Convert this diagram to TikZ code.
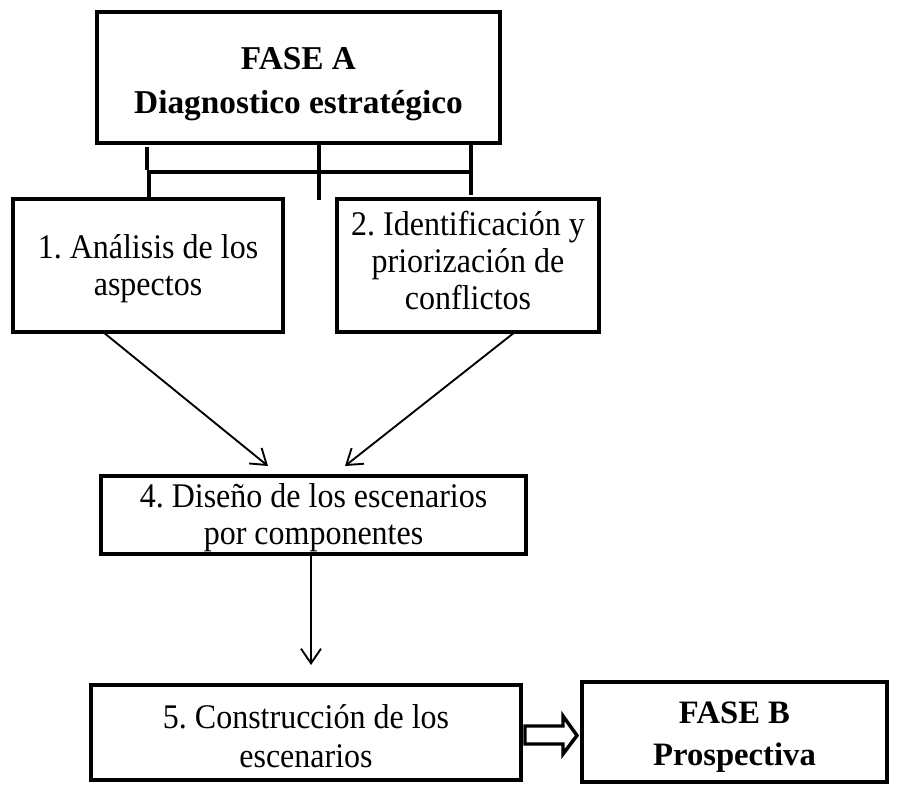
\documentclass[tikz,border=0pt]{standalone}
\usepackage{fontspec}
\usepackage{graphicx}
\setmainfont{Liberation Serif}
\usetikzlibrary{arrows.meta,calc}
\newcommand\vtxt[2][0pt]{\raisebox{-#1}[\height][\depth]{\scalebox{1}[1.08]{\begin{tabular}{@{}c@{}}#2\end{tabular}}}}
\newcommand\btxt[2][0pt]{\raisebox{-#1}[\height][\depth]{\begin{tabular}{@{}c@{}}#2\end{tabular}}}
\begin{document}
\frenchspacing
\begin{tikzpicture}[x=0.75pt,y=-0.75pt,
  box/.style={draw,line width=3pt,rectangle,inner sep=0pt,align=center,
    font=\fontsize{24}{25.7}\selectfont},
  boldbox/.style={box,font=\fontsize{25}{33}\selectfont\bfseries},
  link/.style={line width=3pt},
  arr/.style={line width=1.4pt,-{Straight Barb[length=11pt,width=15pt,line width=1.4pt]}}]
\useasboundingbox (0,0) rectangle (908,789);
\node[boldbox,minimum width=403*0.75pt,minimum height=131*0.75pt] (fa) at (298.5,77.5) {\btxt[3.75pt]{FASE A\\Diagnostico estratégico}};
\node[box,minimum width=270*0.75pt,minimum height=133*0.75pt] (b1) at (148,265.5) {\vtxt[3pt]{1. Análisis de los\\aspectos}};
\node[box,minimum width=262*0.75pt,minimum height=133*0.75pt] (b2) at (468,265.5) {\vtxt{2. Identificación y\\priorización de\\conflictos}};
\node[box,minimum width=425*0.75pt,minimum height=78*0.75pt] (b4) at (313.5,515) {\vtxt[3pt]{4. Diseño de los escenarios\\por componentes}};
\node[box,font=\fontsize{24}{27.1}\selectfont,minimum width=430*0.75pt,minimum height=95*0.75pt] (b5) at (306,732.5) {\vtxt[6pt]{5. Construcción de los\\escenarios}};
\node[boldbox,font=\fontsize{24.5}{32}\selectfont\bfseries,minimum width=305*0.75pt,minimum height=100*0.75pt] (fb) at (734.5,732) {\btxt[3pt]{FASE B\\Prospectiva}};
% connectors under FASE A
\coordinate (s1) at (147,147);
\coordinate (s2) at (147,170);
\coordinate (hl) at (147,172);
\coordinate (hr) at (471,172);
\coordinate (lv) at (149,172);
\coordinate (mid) at (319,200);
\coordinate (rend) at (471,195);
\draw[link] (s1) -- (s2);
\draw[link] (hl) -- (hr);
\draw[link] (lv) -- (lv |- b1.north);
\draw[link] (fa.south -| mid) -- (mid);
\draw[link] (fa.south -| rend) -- (rend);
% arrows
\coordinate (f1) at (103,332);
\coordinate (f2) at (515,332);
\coordinate (t1) at (268,466);
\coordinate (t2) at (345,466);
\coordinate (t3) at (311,665);
\draw[arr] (f1) -- (t1);
\draw[arr] (f2) -- (t2);
\draw[arr] (b4.south -| t3) -- (t3);
% hollow arrow
\draw[line width=2.6pt,line join=miter,fill=white]
  ($(b5.east)+(2,-6.5)$) -- ++(38,0) -- ++(0,-10) -- ($(fb.west|-b5.east)+(-3,3)$)
  -- ($(b5.east)+(40,21.5)$) -- ++(0,-10) -- ($(b5.east)+(2,11.5)$) -- cycle;
\end{tikzpicture}
\end{document}
